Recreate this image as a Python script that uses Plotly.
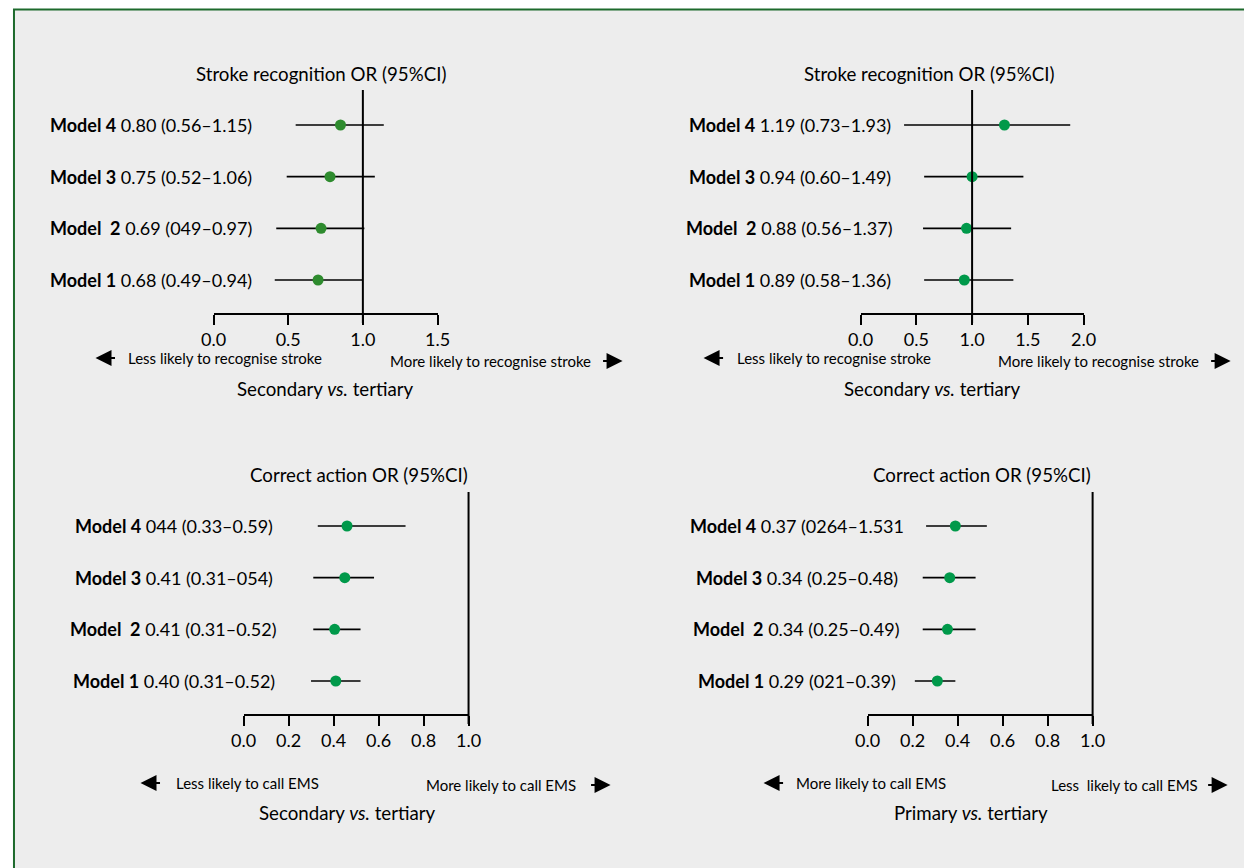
import plotly.graph_objects as go

# ---------------- data ----------------
models = ["Model 1", "Model\u00a0\u00a02", "Model 3", "Model 4"]
rows = [1, 2, 3, 4]

tl_text = ["0.68 (0.49–0.94)", "0.69 (049–0.97)", "0.75 (0.52–1.06)", "0.80 (0.56–1.15)"]
tl_pt = [0.70, 0.72, 0.78, 0.85]
tl_lo = [0.41, 0.42, 0.49, 0.55]
tl_hi = [1.00, 1.01, 1.08, 1.14]

tr_text = ["0.89 (0.58–1.36)", "0.88 (0.56–1.37)", "0.94 (0.60–1.49)", "1.19 (0.73–1.93)"]
tr_pt = [0.93, 0.95, 1.00, 1.29]
tr_lo = [0.57, 0.56, 0.57, 0.39]
tr_hi = [1.37, 1.35, 1.46, 1.88]

bl_text = ["0.40 (0.31–0.52)", "0.41 (0.31–0.52)", "0.41 (0.31–054)", "044 (0.33–0.59)"]
bl_pt = [0.41, 0.405, 0.45, 0.46]
bl_lo = [0.30, 0.31, 0.31, 0.33]
bl_hi = [0.52, 0.52, 0.58, 0.72]

br_text = ["0.29 (021–0.39)", "0.34 (0.25–0.49)", "0.34 (0.25–0.48)", "0.37 (0264–1.531"]
br_pt = [0.31, 0.355, 0.365, 0.39]
br_lo = [0.21, 0.245, 0.245, 0.26]
br_hi = [0.39, 0.48, 0.48, 0.53]

tl_ticks = [0.0, 0.5, 1.0, 1.5]
tr_ticks = [0.0, 0.5, 1.0, 1.5, 2.0]
bl_ticks = [0.0, 0.2, 0.4, 0.6, 0.8, 1.0]
br_ticks = [0.0, 0.2, 0.4, 0.6, 0.8, 1.0]
ref_or = 1.0

top_title = "Stroke recognition OR (95%CI)"
bot_title = "Correct action OR (95%CI)"
tl_left, tl_right = "Less likely to recognise stroke", "More likely to recognise stroke"
bl_left, bl_right = "Less likely to call EMS", "More likely to call EMS"
br_left, br_right = "More likely to call EMS", "Less\u00a0 likely to call EMS"
tl_sub = "Secondary <i>vs.</i> tertiary"
br_sub = "Primary <i>vs.</i> tertiary"

# ---------------- layout helpers ----------------
W, H = 1244, 868
FONT = "Lato"
# horizontal calibration of the photographed page
CAL_A, CAL_B = 12.5, 0.979


def px(X):
    return ((X - CAL_A) / CAL_B) / W


def py(Y):
    return 1 - Y / H


GREEN_DARK = "#2e8b2e"
GREEN = "#00994a"

panels = [
    dict(pt=tl_pt, lo=tl_lo, hi=tl_hi, text=tl_text, ticks=tl_ticks, x0=213, x1=437,
         top=90, axis=313, row1=280, row4=125, color=GREEN_DARK, lab_c=150,
         title=top_title, title_c=320, title_y=74,
         left=tl_left, right=tl_right, l_tip=95, l_c=224, l_y=358, r_c=490, r_y=361, r_tip=622,
         sub=tl_sub, sub_c=325, sub_y=389),
    dict(pt=tr_pt, lo=tr_lo, hi=tr_hi, text=tr_text, ticks=tr_ticks, x0=860, x1=1083,
         top=90, axis=313, row1=280, row4=125, color=GREEN, lab_c=789,
         title=top_title, title_c=928, title_y=74,
         left=tl_left, right=tl_right, l_tip=703, l_c=833, l_y=358, r_c=1098, r_y=361, r_tip=1230,
         sub=tl_sub, sub_c=932, sub_y=389),
    dict(pt=bl_pt, lo=bl_lo, hi=bl_hi, text=bl_text, ticks=bl_ticks, x0=243, x1=468,
         top=492, axis=714, row1=681, row4=526, color=GREEN, lab_c=173,
         title=bot_title, title_c=358, title_y=475,
         left=bl_left, right=bl_right, l_tip=140, l_c=247, l_y=783, r_c=500, r_y=785, r_tip=610,
         sub=tl_sub, sub_c=347, sub_y=813),
    dict(pt=br_pt, lo=br_lo, hi=br_hi, text=br_text, ticks=br_ticks, x0=867, x1=1092,
         top=492, axis=714, row1=681, row4=526, color=GREEN, lab_c=796,
         title=bot_title, title_c=981, title_y=475,
         left=br_left, right=br_right, l_tip=763, l_c=870, l_y=783, r_c=1124, r_y=785, r_tip=1227,
         sub=br_sub, sub_c=970, sub_y=813),
]

fig = go.Figure()
annotations = []
shapes = [
    dict(type="rect", xref="paper", yref="paper", x0=1.0 / W, x1=1.05, y0=-0.05, y1=py(9.5),
         fillcolor="#ededed", line=dict(color="#1d6a2c", width=2), layer="below")
]
layout_axes = {}

for i, p in enumerate(panels):
    k = "" if i == 0 else str(i + 1)
    xa, ya = "x" + k, "y" + k
    step = (p["row1"] - p["row4"]) / 3.0
    ylo = 1 - (p["axis"] - p["row1"]) / step
    yhi = 1 + (p["row1"] - p["top"]) / step
    xmin, xmax = p["ticks"][0], p["ticks"][-1]

    fig.add_trace(go.Scatter(
        x=p["pt"], y=rows, mode="markers", xaxis=xa, yaxis=ya,
        marker=dict(size=11, color=p["color"]),
        error_x=dict(type="data", symmetric=False,
                     array=[h - v for h, v in zip(p["hi"], p["pt"])],
                     arrayminus=[v - l for v, l in zip(p["pt"], p["lo"])],
                     color="black", thickness=1.6, width=0),
        showlegend=False, cliponaxis=False, hoverinfo="skip"))

    layout_axes["xaxis" + k] = dict(
        domain=[px(p["x0"]), px(p["x1"])], range=[xmin, xmax], anchor=ya,
        showline=True, linecolor="black", linewidth=1.6, mirror=False,
        ticks="outside", ticklen=10, tickwidth=1.6, tickcolor="black",
        tickvals=p["ticks"], ticktext=["%.1f" % t for t in p["ticks"]],
        tickfont=dict(family=FONT, size=18, color="black"),
        showgrid=False, zeroline=False, fixedrange=True)
    layout_axes["yaxis" + k] = dict(
        domain=[py(p["axis"]), py(p["top"])], range=[ylo, yhi], anchor=xa,
        visible=False, showgrid=False, zeroline=False, fixedrange=True)

    # reference line at OR = 1 (position taken from the axis range, unclipped)
    plot_h = p["axis"] - p["top"]
    xd = (ref_or - xmin) / (xmax - xmin)
    shapes.append(dict(type="line", xref=xa + " domain", yref=ya + " domain", x0=xd, x1=xd,
                       y0=-10.0 / plot_h, y1=1, line=dict(color="black", width=2)))

    # model labels
    for r, m, t in zip(rows, models, p["text"]):
        annotations.append(dict(xref="paper", yref=ya, x=px(p["lab_c"]), y=r,
                                text="<b>%s</b> %s" % (m, t), showarrow=False,
                                xanchor="center", yanchor="middle",
                                font=dict(family=FONT, size=18, color="black")))
    # title
    annotations.append(dict(xref="paper", yref="paper", x=px(p["title_c"]), y=py(p["title_y"]),
                            text=p["title"], showarrow=False, xanchor="center", yanchor="middle",
                            font=dict(family=FONT, size=18.7, color="black")))
    # direction texts
    annotations.append(dict(xref="paper", yref="paper", x=px(p["l_c"]), y=py(p["l_y"]),
                            text=p["left"], showarrow=False, xanchor="center", yanchor="middle",
                            font=dict(family=FONT, size=15, color="black")))
    annotations.append(dict(xref="paper", yref="paper", x=px(p["r_c"]), y=py(p["r_y"]),
                            text=p["right"], showarrow=False, xanchor="center", yanchor="middle",
                            font=dict(family=FONT, size=15, color="black")))
    # arrows
    annotations.append(dict(xref="paper", yref="paper", x=px(p["l_tip"]), y=py(p["l_y"]),
                            ax=21, ay=0, text="", showarrow=True, arrowhead=2, arrowsize=1.6,
                            arrowwidth=2, arrowcolor="black", standoff=0))
    annotations.append(dict(xref="paper", yref="paper", x=px(p["r_tip"]), y=py(p["r_y"]),
                            ax=-21, ay=0, text="", showarrow=True, arrowhead=2, arrowsize=1.6,
                            arrowwidth=2, arrowcolor="black", standoff=0))
    # subtitle
    annotations.append(dict(xref="paper", yref="paper", x=px(p["sub_c"]), y=py(p["sub_y"]),
                            text=p["sub"], showarrow=False, xanchor="center", yanchor="middle",
                            font=dict(family=FONT, size=18.7, color="black")))

fig.update_layout(
    width=W, height=H, margin=dict(l=0, r=0, t=0, b=0),
    paper_bgcolor="white", plot_bgcolor="rgba(0,0,0,0)",
    annotations=annotations, shapes=shapes, showlegend=False,
    font=dict(family=FONT, color="black"),
    **layout_axes)

fig.write_html("out.html", config={"displayModeBar": False},
               post_script="document.body.style.margin='0';document.body.style.overflow='hidden';")
